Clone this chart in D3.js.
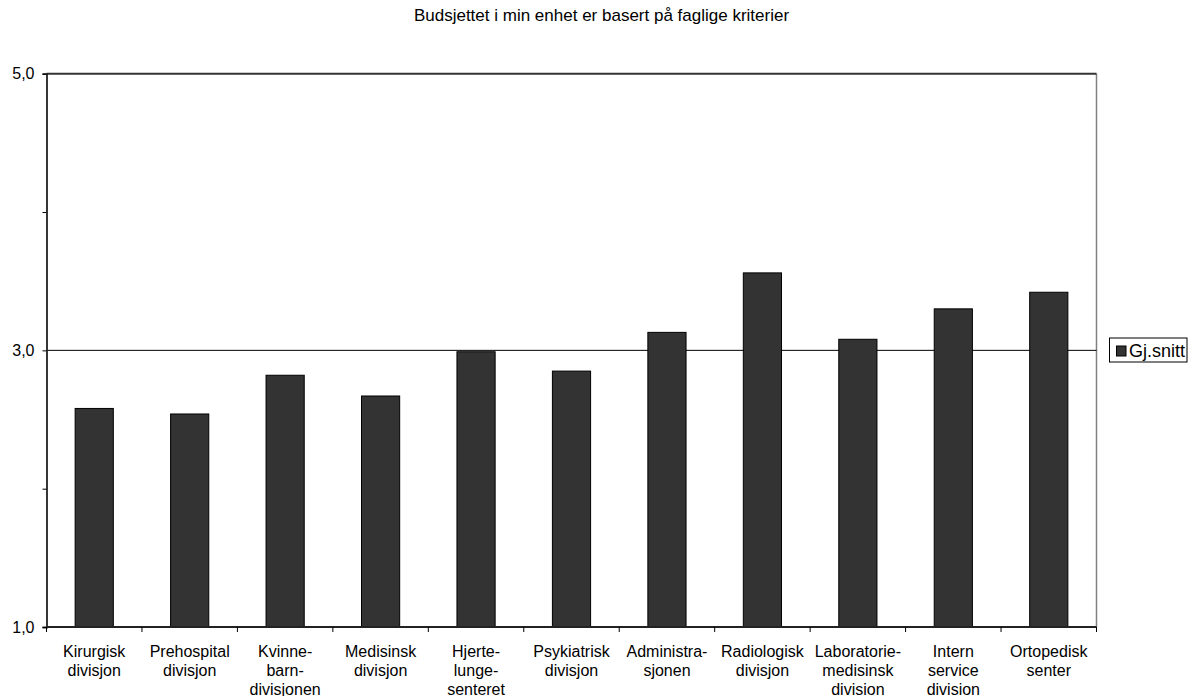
<!DOCTYPE html>
<html>
<head>
<meta charset="utf-8">
<script src="https://cdn.jsdelivr.net/npm/d3@7"></script>
<style>
  html, body { margin: 0; padding: 0; background: #fff; }
  svg { display: block; font-family: "Liberation Sans", Arial, sans-serif; }
</style>
</head>
<body>
<svg id="chart" width="1188" height="696"></svg>
<script>
// Category labels, one array entry per printed line
const categories = [
  ["Kirurgisk", "divisjon"],
  ["Prehospital", "divisjon"],
  ["Kvinne-", "barn-", "divisjonen"],
  ["Medisinsk", "divisjon"],
  ["Hjerte-", "lunge-", "senteret"],
  ["Psykiatrisk", "divisjon"],
  ["Administra-", "sjonen"],
  ["Radiologisk", "divisjon"],
  ["Laboratorie-", "medisinsk", "division"],
  ["Intern", "service", "division"],
  ["Ortopedisk", "senter"]
];
// Average score per division
const averages = [2.58, 2.54, 2.82, 2.67, 2.99, 2.85, 3.13, 3.56, 3.08, 3.30, 3.42];
const yTicks = [1, 2, 3, 4, 5];
const yLabelled = [1, 3, 5];
const yGrid = [3, 5];
const seriesName = "Gj.snitt";
const title = "Budsjettet i min enhet er basert på faglige kriterier";

const svg = d3.select("#chart");
const plot = { left: 46.5, right: 1096.5, top: 73.7, bottom: 627 };

const keys = categories.map((c, i) => i);
const xCat = d3.scaleBand().domain(keys).range([plot.left, plot.right]).padding(0);
const xBar = d3.scaleBand().domain(keys).range([plot.left, plot.right])
  .paddingInner(0.6).paddingOuter(0.3);
const y = d3.scaleLinear().domain([1, 5]).range([plot.bottom, plot.top]);

// Title
svg.append("text")
  .attr("x", 601.5).attr("y", 21)
  .attr("text-anchor", "middle")
  .attr("font-size", 17)
  .attr("fill", "#000")
  .text(title);

// Right border of the plot area
svg.append("line")
  .attr("x1", plot.right).attr("x2", plot.right)
  .attr("y1", plot.top).attr("y2", plot.bottom)
  .attr("stroke", "#808080").attr("stroke-width", 1.5);

// Horizontal gridlines
svg.append("g").selectAll("line").data(yGrid).join("line")
  .attr("x1", plot.left).attr("x2", plot.right)
  .attr("y1", d => y(d)).attr("y2", d => y(d))
  .attr("stroke", d => d === 5 ? "#333" : "#000")
  .attr("stroke-width", d => d === 5 ? 2 : 1);

// Bars
svg.append("g").selectAll("rect").data(averages).join("rect")
  .attr("x", (d, i) => xBar(i))
  .attr("width", xBar.bandwidth())
  .attr("y", d => y(d))
  .attr("height", d => y(1) - y(d))
  .attr("fill", "#333333")
  .attr("stroke", "#000")
  .attr("stroke-width", 1);

// Y axis
const yAxis = d3.axisLeft(y)
  .tickValues(yTicks)
  .tickSize(4)
  .tickPadding(8)
  .tickFormat(d => yLabelled.includes(d) ? d3.format(".1f")(d).replace(".", ",") : "");
const gy = svg.append("g").attr("transform", `translate(${plot.left},0)`).call(yAxis);
gy.select(".domain").attr("stroke", "#222").attr("stroke-width", 1.8);
gy.selectAll(".tick line").attr("stroke", "#000");
gy.selectAll(".tick text").attr("font-size", 16).attr("fill", "#000")
  .attr("font-family", "Liberation Sans, Arial, sans-serif");

// X axis: ticks at category boundaries
const boundaries = keys.map(i => xCat(i)).concat([plot.right]);
svg.append("line")
  .attr("x1", plot.left).attr("x2", plot.right)
  .attr("y1", plot.bottom).attr("y2", plot.bottom)
  .attr("stroke", "#222").attr("stroke-width", 1.8);
svg.append("g").selectAll("line").data(boundaries).join("line")
  .attr("x1", d => d).attr("x2", d => d)
  .attr("y1", plot.bottom).attr("y2", plot.bottom + 5)
  .attr("stroke", "#000");

// Category labels
const labels = svg.append("g").selectAll("text").data(categories).join("text")
  .attr("text-anchor", "middle")
  .attr("font-size", 16)
  .attr("fill", "#000")
  .attr("transform", (d, i) => `translate(${xCat(i) + xCat.bandwidth() / 2},656.5)`);
labels.selectAll("tspan").data(d => d).join("tspan")
  .attr("x", 0)
  .attr("y", (d, j) => j * 19)
  .text(d => d);

// Legend
const legend = svg.append("g");
legend.append("rect")
  .attr("x", 1109.5).attr("y", 338).attr("width", 77.5).attr("height", 24)
  .attr("fill", "#fff").attr("stroke", "#000");
legend.append("rect")
  .attr("x", 1116.5).attr("y", 346).attr("width", 9.5).attr("height", 10)
  .attr("fill", "#333333").attr("stroke", "#000");
legend.append("text")
  .attr("x", 1129).attr("y", 356.7)
  .attr("font-size", 18)
  .attr("fill", "#000")
  .text(seriesName);
</script>
</body>
</html>
